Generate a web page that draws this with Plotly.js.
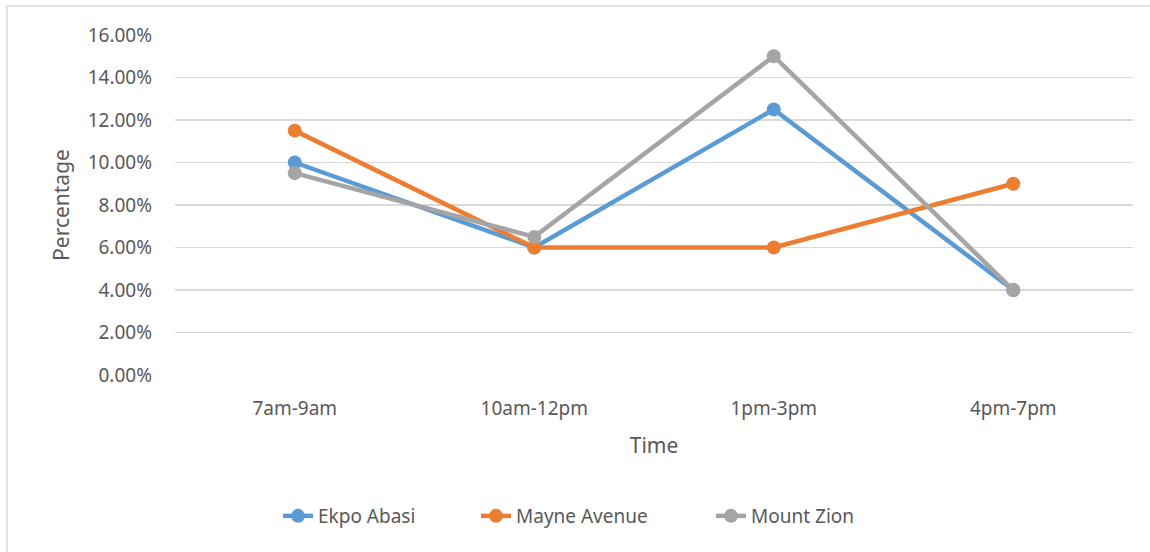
<!DOCTYPE html>
<html>
<head>
<meta charset="utf-8">
<script src="https://cdn.plot.ly/plotly-3.0.1.min.js"></script>
<style>html,body{margin:0;padding:0;background:#fff;}#chart{width:1150px;height:552px;}</style>
</head>
<body>
<div id="chart"></div>
<script>
const categories = ["7am-9am", "10am-12pm", "1pm-3pm", "4pm-7pm"];
const ekpoAbasi = [0.10, 0.06, 0.125, 0.04];
const mayneAvenue = [0.115, 0.06, 0.06, 0.09];
const mountZion = [0.095, 0.065, 0.15, 0.04];
const yTicks = [0, 0.02, 0.04, 0.06, 0.08, 0.10, 0.12, 0.14, 0.16];

const FONT = "Noto Sans, Open Sans, sans-serif";
const TXT = "#595959";

function series(name, y, color, legendId) {
  return {
    type: "scatter", mode: "lines+markers", name: name,
    x: categories, y: y,
    line: {color: color, width: 4.5},
    marker: {color: color, size: 14},
    legend: legendId
  };
}

const data = [
  series("Ekpo Abasi", ekpoAbasi, "#5B9BD5", "legend"),
  series("Mayne Avenue", mayneAvenue, "#ED7D31", "legend2"),
  series("Mount Zion", mountZion, "#A5A5A5", "legend3")
];

const M = {l: 175, r: 17, t: 35, b: 177};
const W = 1150 - M.l - M.r, H = 552 - M.t - M.b;
const px = v => (v - M.l) / W;
const py = v => (552 - M.b - v) / H;

function leg(xPix) {
  return {
    orientation: "h", x: px(xPix), xanchor: "left", y: py(516), yanchor: "middle",
    font: {family: FONT, size: 19, color: TXT},
    bgcolor: "rgba(0,0,0,0)"
  };
}

const layout = {
  width: 1150, height: 552,
  margin: M,
  paper_bgcolor: "#fff", plot_bgcolor: "#fff",
  font: {family: FONT, color: TXT, size: 19},
  showlegend: true,
  legend: leg(278),
  legend2: leg(476),
  legend3: leg(711),
  xaxis: {
    type: "category",
    range: [-0.5, 3.5],
    showgrid: false, zeroline: false, showline: false,
    ticks: "",
    ticklabelstandoff: 20,
    tickfont: {family: FONT, size: 19, color: TXT},
    title: {text: "Time", font: {family: FONT, size: 21, color: TXT}, standoff: 18}
  },
  yaxis: {
    range: [0, 0.16],
    tickvals: yTicks,
    tickformat: ".2%",
    showgrid: true, gridcolor: "#D9D9D9", gridwidth: 1.3,
    zeroline: false, showline: false,
    ticks: "",
    tickfont: {family: FONT, size: 19, color: TXT},
    ticklabelstandoff: 22,
    title: {text: "Percentage", font: {family: FONT, size: 21, color: TXT}, standoff: 12}
  },
  shapes: [{
    type: "rect", xref: "paper", yref: "paper",
    x0: px(7), x1: px(1170), y0: py(6), y1: py(570),
    line: {color: "#D9D9D9", width: 1.5}, fillcolor: "rgba(0,0,0,0)", layer: "below"
  }]
};

Plotly.newPlot("chart", data, layout, {displayModeBar: false, staticPlot: true});
</script>
</body>
</html>
